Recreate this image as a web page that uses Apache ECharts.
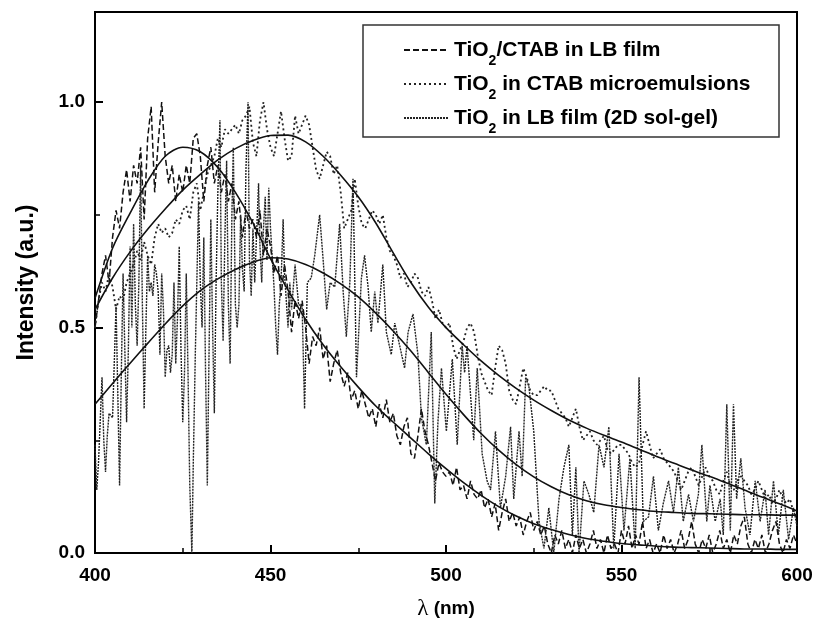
<!DOCTYPE html>
<html><head><meta charset="utf-8">
<script src="https://cdn.jsdelivr.net/npm/echarts@6/dist/echarts.min.js"></script>
<style>html,body{margin:0;padding:0;background:#fff}#c{width:824px;height:620px}</style>
</head><body><div id="c"></div>
<script>
// ---- data ----
const seriesNames = ['TiO2/CTAB in LB film', 'TiO2 in CTAB microemulsions', 'TiO2 in LB film (2D sol-gel)'];

// TiO2/CTAB in LB film (dashed), 1 nm sampling from 400 nm
const lbStart = 400, lbStep = 1;
const lbY = [
 .50,.56,.62,.66,.60,.70,.76,.72,.80,.85,
 .78,.86,.82,.90,.74,.92,.99,.80,.91,1.00,
 .88,.82,.86,.78,.84,.80,.86,.82,.92,.93,
 .88,.78,.86,.90,.82,.86,.80,.84,.78,.82,
 .74,.78,.70,.76,.72,.74,.70,.76,.66,.72,
 .68,.62,.66,.57,.64,.58,.49,.56,.52,.56,
 .50,.42,.48,.46,.50,.43,.46,.38,.42,.45,
 .40,.37,.40,.34,.36,.32,.36,.33,.30,.32,
 .28,.33,.30,.34,.29,.31,.26,.24,.28,.30,
 .22,.21,.26,.32,.27,.24,.20,.16,.20,.18,
 .17,.18,.15,.19,.14,.15,.12,.16,.13,.12,
 .14,.10,.12,.08,.11,.05,.09,.12,.07,.09,
 .06,.08,.04,.07,.09,.05,.07,.04,.06,.02,
 .00,.04,.02,.05,.01,.03,.00,.04,.01,.03,
 .00,.02,.05,.01,.03,.00,.04,.01,.02,.00,
 .05,.02,.06,.01,.04,.02,.07,.01,.03,.00,
 .02,.00,.04,.01,.03,.00,.02,.05,.01,.03,
 .07,.02,.00,.03,.01,.04,.00,.02,.05,.01,
 .03,.00,.04,.02,.06,.08,.02,.00,.03,.01,
 .04,.00,.02,.05,.07,.02,.00,.03,.01,.04,
 .02];

// TiO2 in CTAB microemulsions (dotted), 1 nm sampling from 400 nm
const meStart = 400, meStep = 1;
const meY = [
 .50,.56,.60,.58,.62,.59,.54,.57,.56,.60,
 .62,.64,.67,.65,.69,.66,.64,.70,.73,.71,
 .72,.70,.71,.74,.73,.76,.77,.74,.80,.82,
 .76,.80,.84,.86,.88,.92,.90,.94,.93,.94,
 .95,.93,.96,.97,.99,.91,.88,.96,1.00,.94,
 .90,.88,.93,.98,.92,.87,.88,.97,.93,.95,
 .97,.95,.90,.85,.83,.86,.89,.88,.84,.86,
 .80,.72,.74,.76,.83,.77,.73,.72,.74,.76,
 .75,.73,.75,.70,.67,.66,.64,.61,.62,.59,
 .60,.62,.61,.58,.57,.59,.56,.52,.54,.51,
 .50,.51,.46,.43,.45,.47,.50,.51,.49,.44,
 .40,.38,.36,.35,.41,.46,.45,.42,.36,.34,
 .33,.37,.41,.39,.36,.35,.35,.36,.37,.36,
 .36,.34,.32,.31,.30,.28,.30,.32,.28,.25,
 .26,.27,.25,.24,.25,.26,.23,.22,.23,.24,
 .24,.23,.22,.20,.19,.20,.24,.27,.24,.21,
 .22,.23,.21,.20,.19,.18,.16,.14,.16,.18,
 .19,.17,.15,.17,.19,.17,.16,.14,.13,.16,
 .18,.15,.14,.16,.17,.16,.15,.13,.14,.16,
 .14,.12,.13,.11,.12,.14,.12,.11,.12,.09,
 .08];

// TiO2 in LB film (2D sol-gel), irregular sampling
const sgX = [400,400.5,401,402,402.5,403,403.5,404,405,406,406.5,407,407.5,408,408.5,409,409.5,410,410.5,411,411.5,412,412.5,413,413.5,414,414.5,415,415.5,416,416.5,417,417.5,418,418.5,419,419.5,420,420.5,421,421.5,422,422.5,423,423.5,424,424.5,425,425.5,426,426.5,427,427.6,428,428.6,429.5,430,430.5,431,431.5,432,432.5,433,433.5,434,434.5,435,435.6,436,436.5,437,437.5,438,438.5,439,439.4,440,440.5,441,441.5,442,442.5,443,443.6,444,444.5,445,445.5,446,446.6,447,447.5,448,448.5,449,449.5,450,451,451.5,452,452.5,453,453.6,454,455,455.5,456,457,458,459,459.7,460.5,461.6,462.6,464,465,466,467,468.3,469.7,470.7,471.6,472.6,473.5,474.5,475.9,476.8,477.8,478.7,479.7,480.6,482,483,484.4,485.4,486.8,488.2,489.2,490.6,492,493,494.4,495.8,496.8,497.7,498.7,500.1,501.8,503.2,504.6,505.3,506,507.9,508.9,510.3,511.7,512.7,514.1,515.5,517,518.4,519.3,520.8,521.7,522.7,523.6,525,526.5,527.9,529.3,530.7,532.2,533.6,535,536,537,537.9,539.3,540.7,542.1,543.6,545,546.4,547.8,549.3,550.7,552.4,553.9,555,556.2,557.7,559.1,560.5,561.9,563.4,564.8,566.2,567.6,569.1,570.5,571.9,572.9,574.3,575.2,576.7,578.1,579,580,581,581.9,582.8,584,585.2,586.6,588.1,589.5,590.9,591.9,593.3,594.7,596.1,597.6,599,600];
const sgY = [.24,.14,.20,.39,.25,.18,.26,.31,.30,.55,.35,.15,.40,.62,.45,.29,.45,.68,.50,.73,.55,.46,.60,.86,.55,.32,.50,.66,.58,.60,.57,.64,.62,.58,.44,.62,.54,.39,.45,.46,.40,.44,.60,.42,.52,.68,.45,.29,.40,.62,.40,.15,.00,.20,.45,.78,.60,.50,.70,.40,.15,.45,.74,.50,.31,.60,.80,.96,.60,.47,.70,.87,.55,.42,.75,.90,.55,.50,.55,.75,.63,.58,.85,1.00,.65,.57,.72,.60,.70,.82,.68,.60,.72,.79,.65,.81,.72,.59,.50,.44,.55,.60,.74,.62,.50,.60,.54,.64,.55,.55,.32,.60,.61,.66,.75,.65,.54,.60,.59,.73,.58,.48,.60,.83,.39,.61,.66,.59,.49,.58,.51,.64,.49,.44,.51,.46,.41,.49,.53,.44,.30,.24,.49,.11,.29,.41,.27,.43,.24,.46,.40,.46,.25,.41,.22,.16,.14,.27,.10,.17,.28,.12,.27,.17,.39,.37,.27,.07,.01,.10,.00,.12,.19,.24,.04,.19,.00,.16,.13,.09,.24,.19,.28,.01,.22,.05,.21,.01,.39,.07,.08,.17,.05,.11,.16,.09,.19,.07,.13,.07,.13,.24,.07,.15,.07,.12,.04,.33,.05,.33,.12,.21,.10,.04,.16,.07,.14,.04,.16,.04,.14,.03,.10,.06];

// fitted curves (solid), read every 5 nm
const fitX = [400,405,410,415,420,425,430,435,440,445,450,455,460,465,470,475,480,485,490,495,500,505,510,515,520,525,530,535,540,545,550,555,560,565,570,575,580,585,590,595,600];
const fit1Y = [.565,.676,.754,.825,.880,.900,.890,.855,.800,.732,.653,.583,.518,.462,.413,.368,.326,.290,.255,.220,.187,.156,.128,.103,.082,.065,.052,.041,.032,.026,.021,.018,.015,.013,.012,.011,.010,.009,.009,.008,.008];
const fit2Y = [.540,.610,.668,.718,.763,.805,.840,.872,.897,.915,.926,.927,.912,.880,.838,.790,.732,.665,.600,.545,.500,.462,.426,.394,.365,.339,.316,.295,.277,.261,.246,.230,.214,.199,.184,.170,.155,.140,.124,.109,.093];
const fit3Y = [.330,.376,.421,.465,.508,.548,.582,.608,.629,.645,.655,.652,.640,.621,.597,.568,.532,.492,.448,.400,.352,.307,.265,.228,.196,.169,.147,.129,.116,.107,.101,.096,.092,.090,.088,.087,.086,.085,.085,.084,.084];

const xMin = 400, xMax = 600, xInterval = 50;
const yMin = 0, yMax = 1.2, yInterval = 0.5, yMinorInterval = 0.25;

// ---- build ----
function uniformPairs(start, step, ys) { return ys.map((y, i) => [start + i * step, y]); }
function pairs(xs, ys) { return xs.map((x, i) => [x, ys[i]]); }

const FONT = '"Liberation Sans", Arial, Helvetica, sans-serif';
const chart = echarts.init(document.getElementById('c'), null, { renderer: 'canvas' });

const fitStyle = { type: 'solid', width: 1.6, color: '#111' };

chart.setOption({
  animation: false,
  backgroundColor: '#fff',
  grid: { left: 95, right: 27, top: 12, bottom: 67, containLabel: false, outerBoundsMode: 'none',
          show: true, borderColor: '#000', borderWidth: 2, backgroundColor: 'transparent' },
  legend: {
    data: seriesNames,
    orient: 'vertical',
    left: 403, top: 32, padding: 0,
    itemGap: -2, itemWidth: 45, itemHeight: 14,
    selectedMode: false,
    z: 5,
    itemStyle: { opacity: 0, borderWidth: 0 },
    formatter: n => n.replace('TiO2', 'TiO{sub|2}'),
    textStyle: {
      fontFamily: FONT, fontWeight: 'bold', fontSize: 21, color: '#000', lineHeight: 36,
      rich: { sub: { fontFamily: FONT, fontWeight: 'bold', fontSize: 14, lineHeight: 14, verticalAlign: 'bottom', color: '#000' } }
    }
  },
  graphic: [{
    type: 'rect', z: 3,
    shape: { x: 363, y: 25, width: 416, height: 112 },
    style: { fill: '#fff', stroke: '#333', lineWidth: 1.5 }
  }],
  xAxis: {
    type: 'value', min: xMin, max: xMax, interval: xInterval,
    name: '{l|λ} (nm)', nameLocation: 'middle', nameGap: 44,
    nameTextStyle: { fontFamily: FONT, fontWeight: 'bold', fontSize: 19, color: '#000',
      rich: { l: { fontFamily: '"Liberation Serif", "DejaVu Serif", serif', fontSize: 23, fontWeight: 'normal', color: '#000' } } },
    axisLine: { show: true, onZero: false, lineStyle: { color: '#000', width: 2 } },
    axisTick: { show: true, inside: true, length: 8, lineStyle: { color: '#000', width: 2 } },
    minorTick: { show: true, splitNumber: 2, length: 5, lineStyle: { color: '#000', width: 1.5 } },
    splitLine: { show: false },
    axisLabel: { margin: 13, fontFamily: FONT, fontWeight: 'bold', fontSize: 19, color: '#000' }
  },
  yAxis: [{
    type: 'value', min: yMin, max: yMax, interval: yInterval,
    name: 'Intensity (a.u.)', nameLocation: 'middle', nameGap: 57, nameRotate: 90,
    nameTextStyle: { fontFamily: FONT, fontWeight: 'bold', fontSize: 23, color: '#000' },
    axisLine: { show: true, onZero: false, lineStyle: { color: '#000', width: 2 } },
    axisTick: { show: true, inside: true, length: 8, lineStyle: { color: '#000', width: 2 } },
    splitLine: { show: false },
    axisLabel: { margin: 10, showMaxLabel: false, fontFamily: FONT, fontWeight: 'bold', fontSize: 19, color: '#000',
      formatter: v => v.toFixed(1) }
  }, {
    type: 'value', min: yMin, max: yMax, interval: yMinorInterval, position: 'left', offset: 0,
    axisLine: { show: false },
    axisTick: { show: true, inside: true, length: 5, lineStyle: { color: '#000', width: 1.5 } },
    axisLabel: { show: false },
    splitLine: { show: false }
  }],
  series: [
    { name: seriesNames[0], type: 'line', data: uniformPairs(lbStart, lbStep, lbY), symbol: 'none', z: 2,
      lineStyle: { type: [6, 3], width: 1.5, color: '#111' }, itemStyle: { color: '#111' } },
    { name: seriesNames[1], type: 'line', data: uniformPairs(meStart, meStep, meY), symbol: 'none', z: 2,
      lineStyle: { type: [2, 3], width: 1.8, color: '#222' }, itemStyle: { color: '#222' } },
    { name: seriesNames[2], type: 'line', data: pairs(sgX, sgY), symbol: 'none', z: 2,
      lineStyle: { type: [2, 1], width: 1.4, color: '#222' }, itemStyle: { color: '#222' } },
    { name: 'fit1', type: 'line', data: pairs(fitX, fit1Y), symbol: 'none', smooth: 0.3, z: 2, lineStyle: fitStyle },
    { name: 'fit2', type: 'line', data: pairs(fitX, fit2Y), symbol: 'none', smooth: 0.3, z: 2, lineStyle: fitStyle },
    { name: 'fit3', type: 'line', data: pairs(fitX, fit3Y), symbol: 'none', smooth: 0.3, z: 2, lineStyle: fitStyle }
  ]
});
</script>
</body></html>
